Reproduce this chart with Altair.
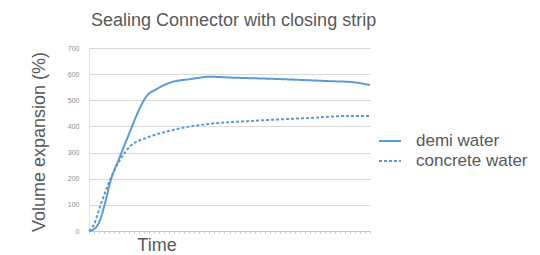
import altair as alt
import pandas as pd

series_names = ["demi water", "concrete water"]

demi_t = [0, 0.6, 1.1, 1.6, 2.1, 3.1, 4.1, 5.1, 5.7, 6.7, 8.1, 10.1, 12.1, 14.1, 19.1, 24.1, 26.1, 27.1, 28]
demi_v = [0, 10, 42, 107, 185, 286, 382, 473, 514, 542, 568, 581, 590, 587, 581, 573, 570, 565, 558]

conc_t = [0, 0.5, 1.1, 2.1, 3.1, 4.1, 5.7, 7.3, 9.0, 12.3, 15.7, 19.0, 22.3, 25.7, 28]
conc_v = [0, 25, 93, 196, 273, 324, 356, 376, 392, 411, 420, 427, 433, 440, 440]

y_ticks = [0, 100, 200, 300, 400, 500, 600, 700]

rows = []
for t, v in zip(demi_t, demi_v):
    rows.append({"t": t, "v": v, "s": series_names[0]})
for t, v in zip(conc_t, conc_v):
    rows.append({"t": t, "v": v, "s": series_names[1]})
df = pd.DataFrame(rows)

blue = "#5b9bd5"
gray = "#595959"
FONT = "Liberation Sans"
FS = 18

legend = alt.Legend(title=None, orient="none", legendX=289, legendY=81,
                    symbolType="stroke", symbolSize=484, symbolStrokeWidth=2,
                    labelFont=FONT, labelFontSize=17, labelLimit=200,
                    labelColor=gray, rowPadding=0, labelOffset=14)

chart = alt.Chart(df).mark_line(strokeWidth=2, interpolate="monotone").encode(
    x=alt.X("t:Q", scale=alt.Scale(domain=[0, 28], nice=False),
            axis=alt.Axis(title="Time", labels=False, grid=False, ticks=True, tickCount=40,
                          tickSize=2, tickColor="#c8c8c8", domainColor="#c8c8c8",
                          titleFont=FONT, titleFontSize=FS, titleFontWeight="normal",
                          titleColor=gray, titleX=67.5, titleY=14.5, titleAlign="center",
                          titleBaseline="middle")),
    y=alt.Y("v:Q", scale=alt.Scale(domain=[0, 700], nice=False),
            axis=alt.Axis(title="Volume expansion (%)", values=y_ticks, ticks=False,
                          domain=True, domainColor="#e6e6e6",
                          gridColor="#d9d9d9", labelFontSize=7, labelColor="#8c8c8c",
                          labelPadding=10, labelFont=FONT,
                          titleFont=FONT, titleFontSize=FS, titleFontWeight="normal",
                          titleColor=gray, titleX=-50, titleY=93.5, titleAlign="center",
                          titleBaseline="middle")),
    color=alt.Color("s:N", scale=alt.Scale(domain=series_names, range=[blue, blue]), legend=legend),
    strokeDash=alt.StrokeDash("s:N", scale=alt.Scale(domain=series_names, range=[[1, 0], [3, 2]]),
                              legend=legend),
).properties(
    width=281, height=183,
    title=alt.TitleParams("Sealing Connector with closing strip", anchor="start", frame="group",
                          font=FONT, fontSize=FS, fontWeight="normal",
                          color=gray, offset=14, dx=2),
    autosize=alt.AutoSizeParams(type="none"),
    padding={"left": 81, "top": 40, "right": 162, "bottom": 23},
).configure_view(stroke=None)

chart.save("out.html", embed_options={"renderer": "svg", "actions": False})
